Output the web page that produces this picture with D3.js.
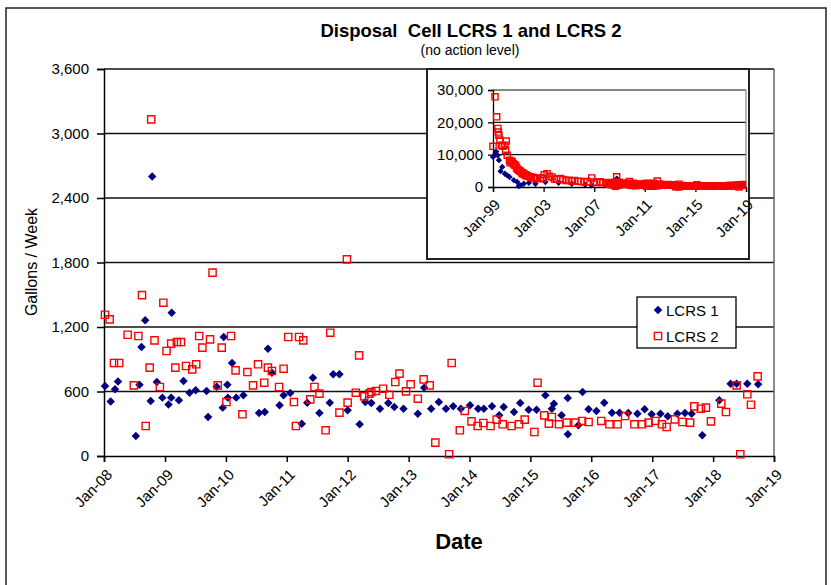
<!DOCTYPE html>
<html>
<head>
<meta charset="utf-8">
<script src="https://cdn.jsdelivr.net/npm/d3@7"></script>
<style>
  body { margin: 0; background: #fff; }
  text { font-family: "Liberation Sans", Arial, sans-serif; fill: #000; }
</style>
</head>
<body>
<script>
// ---- data ----
const lcrs1Dates = ["2008-01-07","2008-02-10","2008-03-07","2008-03-25","2008-07-10","2008-08-01","2008-08-13","2008-09-04","2008-10-07","2008-10-16",
  "2008-11-13","2008-12-16","2009-01-22","2009-02-07","2009-02-10","2009-03-25","2009-04-22","2009-05-28","2009-07-04","2009-09-07",
  "2009-09-16","2009-11-07","2009-12-13","2009-12-19","2010-01-10","2010-01-13","2010-02-07","2010-03-04","2010-04-16","2010-07-19",
  "2010-08-22","2010-09-10","2010-10-04","2010-11-19","2010-12-13","2011-01-22","2011-04-01","2011-05-04","2011-06-07","2011-07-16",
  "2011-09-16","2011-10-07","2011-11-13","2012-01-01","2012-03-13","2012-04-16","2012-05-22","2012-07-13","2012-09-01","2012-10-07",
  "2012-12-01","2013-02-25","2013-04-04","2013-05-16","2013-07-01","2013-08-13","2013-09-25","2013-11-10","2014-01-04","2014-02-22",
  "2014-03-28","2014-05-16","2014-06-28","2014-07-25","2014-09-25","2014-11-01","2014-12-22","2015-02-07","2015-04-01","2015-05-10",
  "2015-05-22","2015-07-07","2015-08-13","2015-08-14","2015-10-16","2015-11-10","2015-12-16","2016-02-01","2016-03-19","2016-05-04",
  "2016-06-19","2016-08-10","2016-10-04","2016-11-16","2016-12-28","2017-02-19","2017-04-04","2017-06-01","2017-07-16","2017-08-25",
  "2017-10-28","2018-02-07","2018-04-16","2018-05-22","2018-07-25","2018-09-28"];
const lcrs1Values = [651,508,620,694,186,663,1014,1262,512,2601,
  688,543,480,543,1333,518,698,589,611,605,
  363,645,450,1107,663,543,865,543,564,400,
  409,998,775,471,564,586,301,496,728,400,
  496,760,760,425,295,502,493,440,493,456,
  440,394,636,440,502,440,462,440,471,440,
  440,462,378,456,409,493,431,431,564,440,
  487,378,539,202,285,595,434,419,496,403,
  403,400,394,434,388,394,369,394,400,394,
  192,518,673,673,673,667];

const lcrs2Dates = ["2008-01-07","2008-02-04","2008-03-01","2008-04-01","2008-05-22","2008-06-28","2008-07-25","2008-08-16","2008-09-07","2008-10-01",
  "2008-10-10","2008-10-30","2008-12-01","2008-12-22","2009-01-10","2009-02-07","2009-03-04","2009-03-13","2009-04-07","2009-05-07",
  "2009-06-13","2009-07-07","2009-07-25","2009-08-13","2009-09-28","2009-10-13","2009-11-13","2009-12-07","2010-01-04","2010-02-01",
  "2010-02-28","2010-04-10","2010-05-10","2010-06-13","2010-07-13","2010-08-19","2010-09-10","2010-10-04","2010-11-16","2010-12-13",
  "2011-01-10","2011-02-13","2011-02-25","2011-03-16","2011-04-10","2011-05-22","2011-06-16","2011-07-16","2011-08-22","2011-09-19",
  "2011-11-13","2011-12-28","2012-01-01","2012-02-19","2012-03-10","2012-04-10","2012-05-10","2012-05-22","2012-06-19","2012-08-01",
  "2012-09-07","2012-10-13","2012-11-07","2012-12-16","2013-01-13","2013-02-25","2013-04-01","2013-05-07","2013-06-10","2013-09-01",
  "2013-09-16","2013-11-04","2013-12-04","2014-01-13","2014-02-19","2014-03-25","2014-05-07","2014-06-13","2014-07-19","2014-09-10",
  "2014-10-25","2014-11-28","2015-01-25","2015-02-13","2015-03-25","2015-04-22","2015-05-10","2015-06-22","2015-08-07","2015-09-28",
  "2015-11-07","2015-12-16","2016-03-01","2016-04-19","2016-06-07","2016-07-22","2016-09-16","2016-11-01","2016-12-10","2017-01-19",
  "2017-02-28","2017-03-28","2017-05-16","2017-07-01","2017-08-16","2017-09-10","2017-10-19","2017-11-19","2017-12-19","2018-02-19",
  "2018-03-19","2018-05-22","2018-06-13","2018-07-25","2018-08-16","2018-09-25"];
const lcrs2Values = [1314,1271,865,865,1128,657,1116,1497,279,822,
  3131,1076,642,1426,977,1045,822,1060,1060,837,
  806,853,1116,1008,1085,1706,657,1008,502,1116,
  797,388,781,657,853,682,822,791,642,812,
  1107,502,279,1107,1076,527,642,580,239,1147,
  403,1829,496,589,936,555,580,595,605,626,
  570,688,766,601,667,533,713,657,124,16,
  865,239,419,322,279,307,279,338,295,279,
  295,338,223,682,378,301,363,295,310,310,
  326,316,326,295,295,372,295,295,310,326,
  295,270,341,316,310,462,440,450,322,487,
  409,657,16,574,477,741];

// earlier record, shown only in the inset (1999-2007)
const early1Dates = ["1999-01-01","1999-02-28","1999-04-04","1999-05-13","1999-06-22","1999-08-07","1999-09-25","1999-12-10","2000-02-16","2000-04-22",
  "2000-08-25","2000-12-01","2001-01-16","2001-03-04","2001-06-07","2001-11-01","2002-05-10","2003-02-22","2004-03-10","2005-03-25",
  "2006-04-13","2006-10-22"];
const early1Values = [9300,10000,11000,9800,8300,4900,6200,4100,3600,3100,
  2100,1550,300,500,1000,1300,1000,1550,1300,1000,
  700,500];

const early2Dates = ["1999-01-01","1999-02-28","1999-04-16","1999-05-22","1999-06-01","1999-06-22","1999-07-19","1999-08-28","1999-10-13","1999-12-10",
  "2000-01-01","2000-01-19","2000-02-16","2000-04-22","2000-05-10","2000-06-10","2000-07-07","2000-08-10","2000-09-10","2000-10-13",
  "2000-11-10","2000-12-10","2001-01-16","2001-02-10","2001-03-10","2001-04-22","2001-05-10","2001-06-10","2001-07-25","2001-08-10",
  "2001-09-10","2001-10-10","2001-12-16","2002-01-10","2002-03-10","2002-05-10","2002-07-10","2002-10-01","2002-12-10","2003-01-20",
  "2003-04-10","2003-06-10","2003-09-01","2003-11-10","2004-01-10","2004-04-28","2004-07-10","2004-10-10","2004-12-22","2005-03-10",
  "2005-06-10","2005-10-04","2005-12-10","2006-03-10","2006-06-10","2006-10-22","2007-01-10","2007-03-10","2007-06-10","2007-09-10",
  "2007-12-10"];
const early2Values = [12600,27900,21700,18100,17000,16000,14500,12900,12600,12900,
  11400,14200,9800,8300,7500,8000,7800,7200,6800,6700,
  6000,5500,5200,5000,4700,4100,4400,4000,3600,3800,
  3500,3300,3100,3000,2900,2600,2700,2800,2600,3800,
  4100,3300,3100,2500,2400,2600,2300,2000,2100,1900,
  2000,1800,1700,1600,1700,2800,1500,1400,1600,1300,
  1400];

const yTicks = [0, 600, 1200, 1800, 2400, 3000, 3600];
const xTickLabels = ["2008","2009","2010","2011","2012","2013","2014","2015","2016","2017","2018","2019"];
const insetYTicks = [0, 10000, 20000, 30000];
const insetXTickLabels = ["1999","2003","2007","2011","2015","2019"];
const seriesNames = ["LCRS 1", "LCRS 2"];

// ---- drawing ----
const width = 831, height = 585;
const parse = d3.timeParse("%Y-%m-%d");
const yearParse = d3.timeParse("%Y");
const fmtTick = d3.timeFormat("%b-%y");

const s1 = lcrs1Dates.map((d, i) => ({date: parse(d), value: lcrs1Values[i]}));
const s2 = lcrs2Dates.map((d, i) => ({date: parse(d), value: lcrs2Values[i]}));
const e1 = early1Dates.map((d, i) => ({date: parse(d), value: early1Values[i]})).concat(s1);
const e2 = early2Dates.map((d, i) => ({date: parse(d), value: early2Values[i]})).concat(s2);

const svg = d3.select("body").append("svg")
    .attr("width", width).attr("height", height);

svg.append("rect")
    .attr("x", 6).attr("y", 8).attr("width", 820).attr("height", 600)
    .attr("fill", "#fff").attr("stroke", "#222").attr("stroke-width", 1.5);

// titles
svg.append("text").attr("x", 471).attr("y", 37).attr("text-anchor", "middle")
    .style("font-size", "18.5px").style("font-weight", "bold").attr("fill", "#1a1a1a")
    .style("white-space", "pre")
    .text("Disposal  Cell LCRS 1 and LCRS 2");
svg.append("text").attr("x", 470).attr("y", 55).attr("text-anchor", "middle")
    .style("font-size", "14px").text("(no action level)");

const x = d3.scaleTime().domain([yearParse("2008"), yearParse("2019")]).range([104, 774]);
const y = d3.scaleLinear().domain([0, 3600]).range([456, 69]);

// gridlines + plot border
svg.append("g").selectAll("line")
    .data(yTicks.filter(d => d > 0))
    .join("line")
    .attr("x1", x.range()[0]).attr("x2", x.range()[1])
    .attr("y1", d => y(d)).attr("y2", d => y(d))
    .attr("stroke", "#111").attr("stroke-width", 1.5);
svg.append("line")
    .attr("x1", x.range()[1]).attr("x2", x.range()[1])
    .attr("y1", y(3600)).attr("y2", y(0))
    .attr("stroke", "#666").attr("stroke-width", 1.5);

// axes
const gy = svg.append("g").attr("transform", `translate(${x.range()[0]},0)`)
    .call(d3.axisLeft(y).tickValues(yTicks).tickFormat(d3.format(",")).tickSize(7).tickPadding(8));
const gx = svg.append("g").attr("transform", `translate(0,${y(0)})`)
    .call(d3.axisBottom(x).tickValues(xTickLabels.map(yearParse)).tickFormat(fmtTick).tickSize(6));
[gx, gy].forEach(g => {
  g.select(".domain").attr("stroke", "#000").attr("stroke-width", 1.5);
  g.selectAll(".tick line").attr("stroke", "#000").attr("stroke-width", 1.5);
  g.selectAll("text").style("font-size", "15px").attr("fill", "#111");
});
gx.selectAll("text")
    .attr("x", 0).attr("y", 0).attr("dy", "0.35em")
    .attr("text-anchor", "end")
    .attr("transform", "translate(5,16) rotate(-45)");

svg.append("text")
    .attr("transform", "translate(37,262) rotate(-90)")
    .attr("text-anchor", "middle").style("font-size", "16px")
    .text("Gallons / Week");
svg.append("text").attr("x", 459).attr("y", 549).attr("text-anchor", "middle")
    .style("font-size", "22px").style("font-weight", "bold").text("Date");

const square = d3.symbol().type(d3.symbolSquare);

function drawPoints(g, data, xs, ys, kind, big) {
  if (kind === 0) {
    g.selectAll("path").data(data).join("path")
      .attr("d", square.size(big ? 36 : 20)())
      .attr("transform", d => `translate(${xs(d.date)},${ys(d.value)}) rotate(45)`)
      .attr("fill", "#000080");
  } else {
    g.selectAll("path").data(data).join("path")
      .attr("d", square.size(big ? 52 : 38)())
      .attr("transform", d => `translate(${xs(d.date)},${ys(d.value)})`)
      .attr("fill", "none").attr("stroke", "#ff0000").attr("stroke-width", 1.4);
  }
}

drawPoints(svg.append("g"), s1, x, y, 0, true);
drawPoints(svg.append("g"), s2, x, y, 1, true);

// ---- inset ----
const inset = svg.append("g");
inset.append("rect").attr("x", 427).attr("y", 69).attr("width", 322).attr("height", 190)
    .attr("fill", "#fff").attr("stroke", "#222").attr("stroke-width", 2);

const ix = d3.scaleTime().domain([yearParse("1999"), yearParse("2019")]).range([493, 746]);
const iy = d3.scaleLinear().domain([0, 30000]).range([187, 90]);

inset.append("g").selectAll("line")
    .data(insetYTicks.filter(d => d > 0))
    .join("line")
    .attr("x1", ix.range()[0]).attr("x2", ix.range()[1])
    .attr("y1", d => iy(d)).attr("y2", d => iy(d))
    .attr("stroke", "#111").attr("stroke-width", 1.2);
inset.append("line")
    .attr("x1", ix.range()[1]).attr("x2", ix.range()[1])
    .attr("y1", iy(30000)).attr("y2", iy(0))
    .attr("stroke", "#888").attr("stroke-width", 1.2);

const igy = inset.append("g").attr("transform", `translate(${ix.range()[0]},0)`)
    .call(d3.axisLeft(iy).tickValues(insetYTicks).tickFormat(d3.format(",")).tickSize(5).tickPadding(5));
const igx = inset.append("g").attr("transform", `translate(0,${iy(0)})`)
    .call(d3.axisBottom(ix).tickValues(insetXTickLabels.map(yearParse)).tickFormat(fmtTick).tickSize(5));
[igx, igy].forEach(g => {
  g.select(".domain").attr("stroke", "#000").attr("stroke-width", 1.3);
  g.selectAll(".tick line").attr("stroke", "#000").attr("stroke-width", 1.3);
  g.selectAll("text").style("font-size", "15px").attr("fill", "#1a1a2a");
});
igx.selectAll("text")
    .attr("x", 0).attr("y", 0).attr("dy", "0.35em")
    .attr("text-anchor", "end")
    .attr("transform", "translate(4,15) rotate(-45)");

drawPoints(inset.append("g"), e1, ix, iy, 0, false);
drawPoints(inset.append("g"), e2, ix, iy, 1, false);

// ---- legend ----
const legend = svg.append("g");
legend.append("rect").attr("x", 637).attr("y", 297).attr("width", 99).attr("height", 51)
    .attr("fill", "#fff").attr("stroke", "#000").attr("stroke-width", 1.3);
seriesNames.forEach((name, i) => {
  const ly = 310 + i * 26;
  const g = legend.append("g");
  drawPoints(g, [{date: 0, value: 0}], () => 658, () => ly, i, true);
  legend.append("text").attr("x", 666).attr("y", ly + 5.5)
      .style("font-size", "15px").text(name);
});
</script>
</body>
</html>
